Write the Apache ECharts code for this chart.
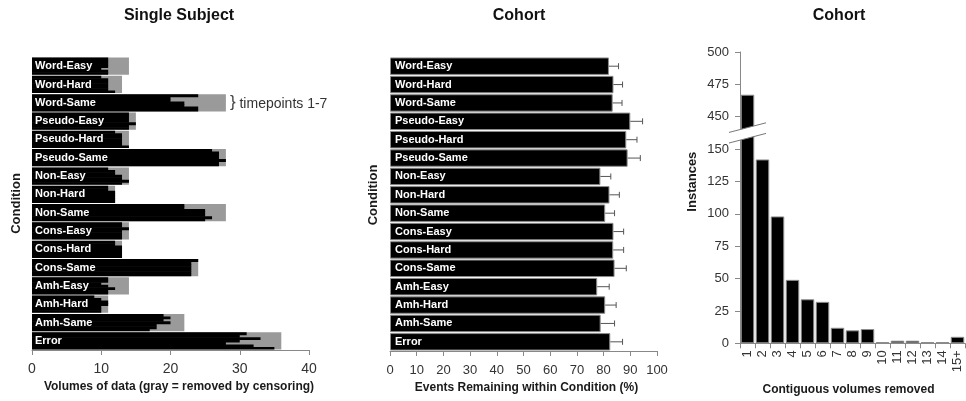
<!DOCTYPE html>
<html><head><meta charset="utf-8">
<script src="https://cdn.jsdelivr.net/npm/echarts@6/dist/echarts.min.js"></script>
<style>html,body{margin:0;padding:0;background:#fff;}#c{width:966px;height:401px;}</style>
</head><body><div id="c"></div>
<script>
// ---------- DATA ----------
const conditions = ['Word-Easy','Word-Hard','Word-Same','Pseudo-Easy','Pseudo-Hard','Pseudo-Same','Non-Easy','Non-Hard','Non-Same','Cons-Easy','Cons-Hard','Cons-Same','Amh-Easy','Amh-Hard','Amh-Same','Error'];
// Single subject: total volumes (gray) and volumes kept per timepoint (black)
const totalVolumes = [14, 13, 28, 15, 14, 28, 14, 12, 28, 14, 13, 24, 14, 11, 22, 36];
const tp1 = [11, 10, 24, 14, 12, 26, 11, 11, 22, 13, 12, 24, 11,  9, 19, 31];
const tp2 = [11, 11, 20, 14, 13, 27, 12, 11, 22, 13, 12, 23, 11, 10, 20, 30];
const tp3 = [11, 11, 20, 14, 13, 27, 12, 12, 25, 14, 13, 23, 10, 11, 19, 33];
const tp4 = [11, 11, 22, 14, 13, 27, 13, 12, 25, 13, 13, 23, 11, 11, 20, 30];
const tp5 = [10, 11, 22, 15, 13, 28, 13, 12, 25, 13, 13, 23, 12, 10, 18, 28];
const tp6 = [11, 11, 24, 14, 13, 27, 14, 12, 26, 13, 13, 23, 11, 10, 18, 32];
const tp7 = [11, 12, 24, 14, 14, 27, 13, 12, 25, 13, 13, 23, 11, 10, 17, 35];
// Cohort: events remaining (%) and error
const eventsRemaining = [82, 83.7, 83.4, 90, 88.5, 89, 78.8, 82.2, 80.6, 83.7, 83.6, 84.1, 77.6, 80.6, 78.9, 82.5];
const eventsError     = [3.6, 3.4, 3.5, 4.6, 4.0, 4.75, 3.9, 3.7, 3.5, 3.8, 3.9, 4.4, 4.5, 4.1, 5.2, 4.6];
// Cohort: contiguous volumes removed histogram
const lengthLabels = ['1','2','3','4','5','6','7','8','9','10','11','12','13','14','15+'];
const instances = [467, 142, 98, 49, 34, 32, 12, 10, 11, 1, 2, 2, 1, 1, 5];

// ---------- CONFIG ----------
const FONT = '"Liberation Sans", Arial, sans-serif';
const timepoints = [tp1, tp2, tp3, tp4, tp5, tp6, tp7];
const BREAK_LOW = 150, BREAK_HIGH = 450, BREAK_POS = 175;
const toAxis = v => v >= BREAK_HIGH ? v - BREAK_HIGH + BREAK_POS : v;
const fromAxis = t => t >= BREAK_POS ? t - BREAK_POS + BREAK_HIGH : t;

const axisGray = '#888';
const tickLabel = (size) => ({color:'#333', fontSize:size, fontFamily:FONT});
const nameStyle = (size, pad) => ({color:'#1a1a1a', fontSize:size, fontWeight:'bold', fontFamily:FONT, padding:pad||0});
const catLabel = (margin) => ({inside:true, color:'#fff', fontWeight:'bold', fontSize:11, fontFamily:FONT, margin:margin});

const chart = echarts.init(document.getElementById('c'), null, {renderer:'canvas'});

const grayData = totalVolumes.map((v, i) => {
  if (conditions[i] !== 'Word-Same') return v;
  return {value: v, label: {
    show: true, position: 'right', distance: 4,
    formatter: '}{t| timepoints 1-7}',
    color: '#444', fontSize: 17, fontFamily: FONT, fontWeight: 'lighter',
    rich: {t: {fontSize: 14, color: '#333', fontFamily: FONT, verticalAlign: 'middle', padding:[2,0,0,0]}}
  }};
});

// one row per (condition, timepoint): [volumes kept, condition index, timepoint index]
const timepointRows = [];
timepoints.forEach((arr, k) => arr.forEach((v, i) => timepointRows.push([v, i, k])));
const BAND_FILL = 0.94;

const option = {
  animation: false,
  backgroundColor: '#fff',
  textStyle: {fontFamily: FONT},
  title: [
    {text:'Single Subject', left:179, top:8, textAlign:'center', padding:0, textStyle:{fontSize:16, fontWeight:'bold', color:'#111', fontFamily:FONT}},
    {text:'Cohort', left:519, top:8, textAlign:'center', padding:0, textStyle:{fontSize:16, fontWeight:'bold', color:'#111', fontFamily:FONT}},
    {text:'Cohort', left:839, top:8, textAlign:'center', padding:0, textStyle:{fontSize:16, fontWeight:'bold', color:'#111', fontFamily:FONT}}
  ],
  grid: [
    {left:32, width:277, top:57, height:293},
    {left:390, width:267, top:57, height:294},
    {left:740, width:225, top:52, height:291.3}
  ],
  xAxis: [
    {gridIndex:0, type:'value', min:0, max:40, interval:10,
     name:'Volumes of data (gray = removed by censoring)', nameLocation:'middle', nameGap:31,
     nameTextStyle:nameStyle(12,[0,0,0,17]),
     axisLine:{show:true, lineStyle:{color:axisGray}}, axisTick:{show:true, length:5, lineStyle:{color:axisGray}},
     axisLabel:Object.assign(tickLabel(14), {margin:12}), splitLine:{show:false}},
    {gridIndex:1, type:'value', min:0, max:100, interval:10,
     name:'Events Remaining within Condition (%)', nameLocation:'middle', nameGap:31,
     nameTextStyle:nameStyle(12,[0,0,0,6]),
     axisLine:{show:true, lineStyle:{color:axisGray}}, axisTick:{show:true, length:5, lineStyle:{color:axisGray}},
     axisLabel:Object.assign(tickLabel(13), {margin:13}), splitLine:{show:false}},
    {gridIndex:2, type:'category', data:lengthLabels,
     name:'Contiguous volumes removed', nameLocation:'middle', nameGap:40,
     nameTextStyle:nameStyle(12,[0,8,0,0]),
     axisLine:{show:true, lineStyle:{color:axisGray}}, axisTick:{show:true, length:5, lineStyle:{color:axisGray}},
     axisLabel:Object.assign(tickLabel(13), {rotate:90, margin:7, interval:0})}
  ],
  yAxis: [
    {gridIndex:0, type:'category', data:conditions, inverse:true, z:10,
     name:'Condition', nameLocation:'middle', nameGap:9, nameRotate:90, nameTextStyle:nameStyle(13),
     axisLine:{show:false}, axisTick:{show:false}, axisLabel:catLabel(3)},
    {gridIndex:1, type:'category', data:conditions, inverse:true, z:10,
     name:'Condition', nameLocation:'middle', nameGap:10, nameRotate:90, nameTextStyle:nameStyle(13,[0,0,0,18]),
     axisLine:{show:false}, axisTick:{show:false}, axisLabel:catLabel(5)},
    {gridIndex:2, type:'value', min:0, max:225, interval:25,
     name:'Instances', nameLocation:'middle', nameGap:41, nameRotate:90, nameTextStyle:nameStyle(13,[0,0,0,32]),
     axisLine:{show:true, lineStyle:{color:axisGray}}, axisTick:{show:true, length:5, lineStyle:{color:axisGray}},
     axisLabel:Object.assign(tickLabel(13), {margin:11,
       formatter: v => (v > BREAK_LOW && v < BREAK_POS) ? '' : String(fromAxis(v))}),
     splitLine:{show:false}}
  ],
  series: [
    {type:'bar', name:'total', xAxisIndex:0, yAxisIndex:0, data:grayData,
     barCategoryGap:'6%', itemStyle:{color:'#9a9a9a'}, z:1},
    {type:'custom', name:'timepoints', xAxisIndex:0, yAxisIndex:0, z:2,
     data: timepointRows, encode:{x:0, y:1},
     renderItem: (params, api) => {
       const v = api.value(0), i = api.value(1), k = api.value(2);
       const pEnd = api.coord([v, i]), pStart = api.coord([0, i]);
       const inner = api.size([0, 1])[1] * BAND_FILL;
       const h = inner / timepoints.length;
       const y0 = pEnd[1] - inner / 2 + k * h;
       return {type:'rect', shape:{x:pStart[0], y:y0, width:pEnd[0]-pStart[0], height:h + (k < timepoints.length-1 ? 0.5 : 0)},
               style:{fill:'#000'}};
     }},
    {type:'bar', name:'events', xAxisIndex:1, yAxisIndex:1, data:eventsRemaining,
     barCategoryGap:'5%', itemStyle:{color:'#000', borderColor:'#8c8c8c', borderWidth:1}, z:2},
    {type:'custom', name:'err', xAxisIndex:1, yAxisIndex:1, z:3,
     data: eventsRemaining.map((v, i) => [v, i, eventsError[i]]),
     encode:{x:0, y:1},
     renderItem: (params, api) => {
       const v = api.value(0), i = api.value(1), e = api.value(2);
       const p0 = api.coord([v, i]), p1 = api.coord([v + e, i]);
       const h = 3;
       return {type:'group', children:[
         {type:'line', shape:{x1:p0[0], y1:p0[1], x2:p1[0], y2:p1[1]}, style:{stroke:'#555', lineWidth:1}},
         {type:'line', shape:{x1:p1[0], y1:p1[1]-h, x2:p1[0], y2:p1[1]+h}, style:{stroke:'#555', lineWidth:1}}
       ]};
     }},
    {type:'bar', name:'instances', xAxisIndex:2, yAxisIndex:2, data:instances.map(toAxis),
     barCategoryGap:'10%', itemStyle:{color:'#000', borderColor:'#8c8c8c', borderWidth:1}, z:2}
  ]
};
chart.setOption(option);

// axis-break marks on the histogram's value axis
(function drawBreak(){
  const yMid = chart.convertToPixel({yAxisIndex:2}, (BREAK_LOW + BREAK_POS) / 2);
  const c0 = chart.convertToPixel({xAxisIndex:2}, 0);
  const c1 = chart.convertToPixel({xAxisIndex:2}, 1);
  const bw = c1 - c0;
  const axisX = c0 - bw / 2;
  const L = axisX - 11, R = axisX + bw + 11;
  const k = 0.26, half = (R - L) / 2 * k, sep = 5.3;
  const uL = yMid - sep + half, uR = yMid - sep - half;
  const lL = yMid + sep + half, lR = yMid + sep - half;
  chart.setOption({graphic: [
    {type:'polygon', z:100, shape:{points:[[L,uL],[R,uR],[R,lR],[L,lL]]}, style:{fill:'#fff'}},
    {type:'line', z:101, shape:{x1:L, y1:uL, x2:R, y2:uR}, style:{stroke:'#777', lineWidth:1}},
    {type:'line', z:101, shape:{x1:L, y1:lL, x2:R, y2:lR}, style:{stroke:'#777', lineWidth:1}}
  ]});
})();
</script>
</body></html>
